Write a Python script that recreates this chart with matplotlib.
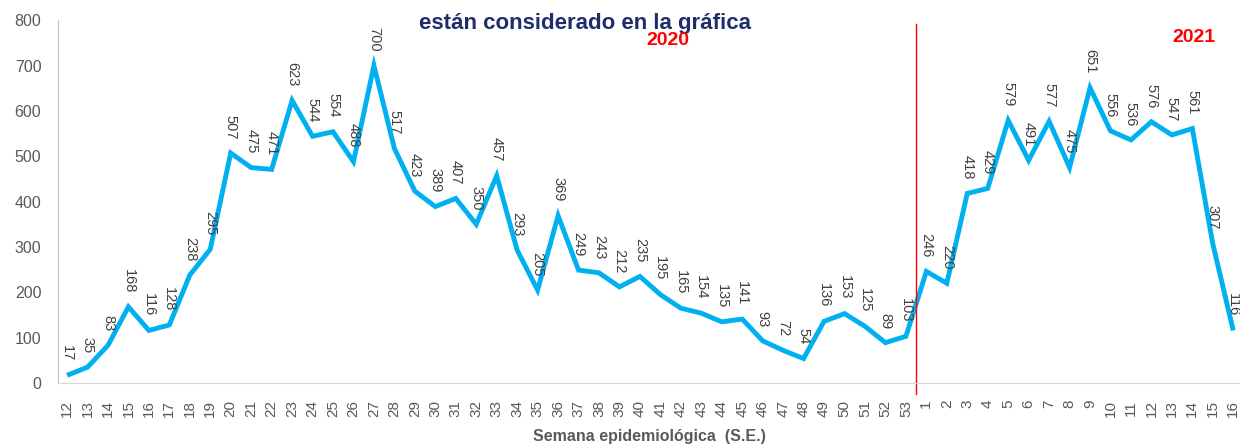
""" plot.py - casos por semana epidemiologica 2020-2021 """

import numpy as np
import matplotlib
matplotlib.use("Agg")
import matplotlib.pyplot as plt

plt.rcParams['font.family'] = ['Liberation Sans', 'DejaVu Sans']

# semanas 12..53 de 2020 y 1..16 de 2021
weeks_2020 = list(range(12, 54))
weeks_2021 = list(range(1, 17))
cases_2020 = [17, 35, 83, 168, 116, 128, 238, 295, 507, 475, 471, 623, 544,
              554, 488, 700, 517, 423, 389, 407, 350, 457, 293, 205, 369, 249,
              243, 212, 235, 195, 165, 154, 135, 141, 93, 72, 54, 136, 153,
              125, 89, 103]
cases_2021 = [246, 220, 418, 429, 579, 491, 577, 475, 651, 556, 536, 576,
              547, 561, 307, 116]

tick_labels = [str(w) for w in weeks_2020 + weeks_2021]
values = cases_2020 + cases_2021
x = np.arange(len(values))

line_color = '#00B0F0'
text_grey = '#595959'

fig = plt.figure(figsize=(12.4, 4.48), dpi=100)
ax = fig.add_axes([0.0468, 0.145, 0.9532, 0.81])

ax.plot(x, values, color=line_color, lw=3.5, solid_joinstyle='miter',
        solid_capstyle='butt')

for xi, v in zip(x, values):
    ax.annotate(str(v), (xi, v), xytext=(0, 10), textcoords='offset points',
                rotation=-90, ha='center', va='bottom', fontsize=10.5,
                color='#404040')

# separacion entre anios
sep = len(cases_2020) - 0.5
ax.plot([sep, sep], [-0.03, 0.99], color='red', lw=1,
        transform=ax.get_xaxis_transform(), clip_on=False)

ax.set_xlim(-0.44, len(values) - 0.67)
ax.set_ylim(0, 800)
ax.set_yticks(range(0, 801, 100))
ax.set_xticks(x)
ax.set_xticklabels(tick_labels, rotation=90, fontsize=11, color=text_grey)
ax.tick_params(axis='y', labelsize=11.5, colors=text_grey, length=0, pad=12)
ax.tick_params(axis='x', length=0, pad=12)

for s in ['top', 'right']:
    ax.spines[s].set_visible(False)
ax.spines['left'].set_color('#BFBFBF')
ax.spines['bottom'].set_color('#D9D9D9')

ax.set_xlabel('Semana epidemiológica  (S.E.)', fontsize=11.5, fontweight='bold',
              color=text_grey, labelpad=9)

fig.text(0.338, 0.948, 'están considerado en la gráfica', fontsize=16,
         fontweight='bold', color='#1F2D6B', ha='left', va='center')
fig.text(0.539, 0.91, '2020', fontsize=14, fontweight='bold', color='red',
         ha='center', va='center')
fig.text(0.963, 0.917, '2021', fontsize=14, fontweight='bold', color='red',
         ha='center', va='center')

fig.savefig('out.png', dpi=100)
